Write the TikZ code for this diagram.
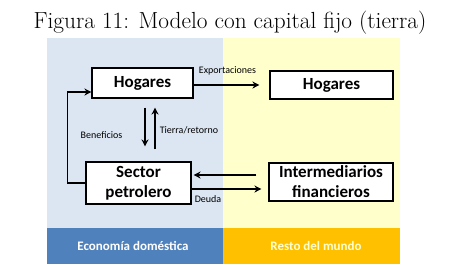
\documentclass[tikz,border=0pt]{standalone}
\usepackage{fontspec}
\newfontfamily\carlito{Carlito}
\usetikzlibrary{arrows.meta}
\definecolor{lblue}{HTML}{DCE6F2}
\definecolor{dblue}{HTML}{4F81BD}
\definecolor{lyellow}{HTML}{FFFFCC}
\definecolor{dorange}{HTML}{FFC000}
\begin{document}
\begin{tikzpicture}[x=1pt,y=-1pt,
  box/.style={draw=black, line width=1.1pt, fill=white, font=\carlito\bfseries\fontsize{17}{20}\selectfont, inner sep=0pt, align=center},
  lbl/.style={font=\carlito\fontsize{10}{12}\selectfont, inner sep=0pt},
  barlbl/.style={font=\carlito\bfseries\fontsize{13}{15}\selectfont, inner sep=0pt},
  arr/.style={line width=1.3pt, -{Stealth[length=7pt,width=7pt]}}
]
\useasboundingbox (0,0) rectangle (450,276);
\fill[lblue] (47,38) rectangle (223,228);
\fill[lyellow] (223,38) rectangle (400,228);
\fill[dblue] (47,228) rectangle (223,264);
\fill[dorange] (223,228) rectangle (400,264);
\node[anchor=base, inner sep=0pt, font=\fontsize{23.3}{26}\selectfont] (title) at (230,28) {Figura 11: Modelo con capital fijo (tierra)};
\node[box, minimum width=101pt, minimum height=30pt] (hl) at (142.5,83) {Hogares};
\node[box, minimum width=123pt, minimum height=28pt] (hr) at (331.5,85) {Hogares};
\node[box, minimum width=105pt, minimum height=42pt] (sp) at (138.5,183) {Sector\\petrolero};
\node[box, minimum width=124pt, minimum height=38pt] (im) at (331,182) {Intermediarios\\financieros};
\draw[arr, shorten >=10pt] ([yshift=-2pt]hl.east) -- ([yshift=-2pt]hl.east -| hr.west);
\draw[arr, shorten <=9pt, shorten >=15pt] ([xshift=2.5pt]hl.south) -- ([xshift=2.5pt]hl.south |- sp.north);
\draw[arr, shorten <=12pt, shorten >=9pt] ([xshift=12.5pt]hl.south |- sp.north) -- ([xshift=12.5pt]hl.south);
\draw[arr] (sp.west) -- ++(-18,0) |- ([yshift=-9pt]hl.west);
\draw[arr, shorten <=12pt, shorten >=2pt] ([yshift=7pt]im.west) -- ([yshift=7pt]im.west -| sp.east);
\draw[arr, shorten >=7pt] ([yshift=-6pt]sp.east) -- ([yshift=-6pt]sp.east -| im.west);
\node[lbl] (lexp) at (227.5,71) {Exportaciones};
\node[lbl] (lben) at (101.5,135) {Beneficios};
\node[lbl] (ltie) at (189,130) {Tierra/retorno};
\node[lbl] (ldeu) at (208,199) {Deuda};
\node[barlbl, text=white] (leco) at (133,246) {Economía doméstica};
\node[barlbl, text=lyellow] (lres) at (316,246) {Resto del mundo};
\end{tikzpicture}
\end{document}
